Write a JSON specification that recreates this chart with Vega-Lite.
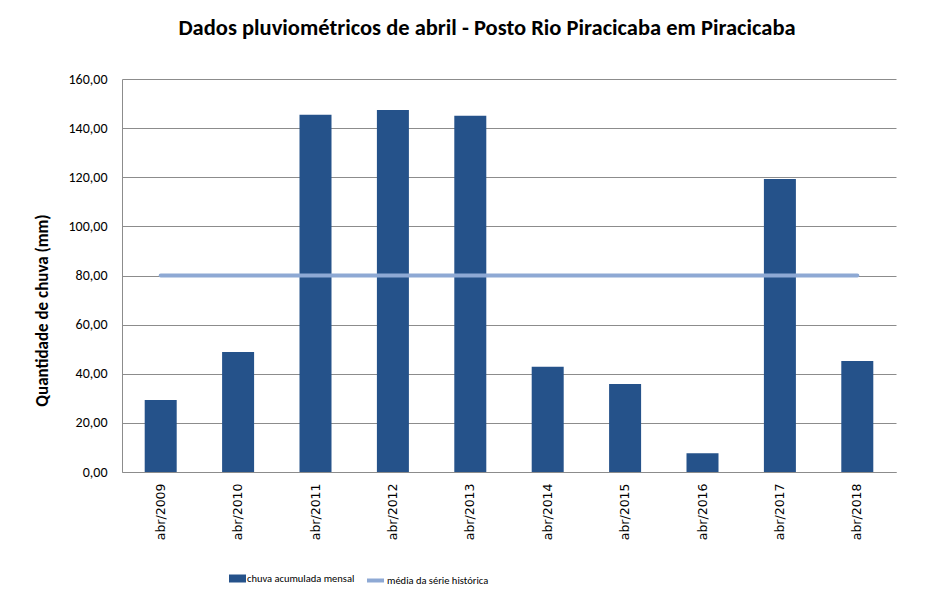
{
  "$schema": "https://vega.github.io/schema/vega-lite/v6.json",
  "width": 774,
  "height": 393,
  "autosize": {"type": "none"},
  "padding": {"left": 122, "top": 79, "right": 54, "bottom": 125},
  "background": "white",
  "title": {
    "text": "Dados pluviométricos de abril - Posto Rio Piracicaba em Piracicaba",
    "font": "Carlito, Lato, sans-serif",
    "fontSize": 22.5,
    "fontWeight": "bold",
    "color": "black",
    "anchor": "middle",
    "dx": -22,
    "offset": 33
  },
  "data": {
    "values": [
      {"mes": "abr/2009", "chuva": 29.3, "media": 80.0},
      {"mes": "abr/2010", "chuva": 48.9, "media": 80.0},
      {"mes": "abr/2011", "chuva": 145.4, "media": 80.0},
      {"mes": "abr/2012", "chuva": 147.4, "media": 80.0},
      {"mes": "abr/2013", "chuva": 145.0, "media": 80.0},
      {"mes": "abr/2014", "chuva": 42.8, "media": 80.0},
      {"mes": "abr/2015", "chuva": 35.8, "media": 80.0},
      {"mes": "abr/2016", "chuva": 7.6, "media": 80.0},
      {"mes": "abr/2017", "chuva": 119.3, "media": 80.0},
      {"mes": "abr/2018", "chuva": 45.2, "media": 80.0}
    ]
  },
  "encoding": {
    "x": {
      "field": "mes",
      "type": "nominal",
      "sort": null,
      "scale": {"paddingInner": 0, "paddingOuter": 0},
      "axis": {
        "title": null,
        "labelAngle": -90,
        "labelFont": "DejaVu Sans",
        "labelFontSize": 12.5,
        "labelColor": "black",
        "labelPadding": 11,
        "ticks": false,
        "domainColor": "#8c8c8c",
        "grid": false
      }
    }
  },
  "layer": [
    {
      "mark": {"type": "bar", "width": 32},
      "encoding": {
        "y": {
          "field": "chuva",
          "type": "quantitative",
          "scale": {"domain": [0, 160], "nice": false},
          "axis": {
            "title": "Quantidade de chuva (mm)",
            "titleFont": "Carlito, Lato, sans-serif",
            "titleFontSize": 17,
            "titleFontWeight": "bold",
            "titleColor": "black",
            "titleX": -80,
            "titleY": 231,
            "titleBaseline": "middle",
            "values": [0, 20, 40, 60, 80, 100, 120, 140, 160],
            "labelExpr": "replace(format(datum.value, '.2f'), '.', ',')",
            "labelFont": "Carlito, Lato, sans-serif",
            "labelFontSize": 14,
            "labelColor": "black",
            "labelPadding": 15,
            "ticks": false,
            "domainColor": "#8c8c8c",
            "gridColor": "#8c8c8c",
            "gridWidth": 1
          }
        },
        "fill": {
          "datum": "chuva acumulada mensal",
          "scale": {"range": ["#25528A"]},
          "legend": {
            "title": null,
            "orient": "none",
            "legendX": 107,
            "legendY": 491,
            "symbolType": "M-1,-0.47L1,-0.47L1,0.47L-1,0.47Z",
            "symbolSize": 289,
            "symbolStrokeWidth": 0,
            "labelFont": "Carlito, Lato, sans-serif",
            "labelFontSize": 10.5,
            "labelColor": "black",
            "labelOffset": 1
          }
        }
      }
    },
    {
      "mark": {"type": "line", "strokeWidth": 4, "strokeCap": "round"},
      "encoding": {
        "y": {
          "field": "media",
          "type": "quantitative"
        },
        "stroke": {
          "datum": "média da série histórica",
          "scale": {"range": ["#8EA9D4"]},
          "legend": {
            "title": null,
            "orient": "none",
            "legendX": 243,
            "legendY": 491,
            "symbolType": "stroke",
            "symbolSize": 289,
            "symbolStrokeWidth": 4,
            "labelFont": "Carlito, Lato, sans-serif",
            "labelFontSize": 10.5,
            "labelColor": "black",
            "labelOffset": 1
          }
        }
      }
    }
  ],
  "config": {
    "view": {"stroke": null}
  }
}
